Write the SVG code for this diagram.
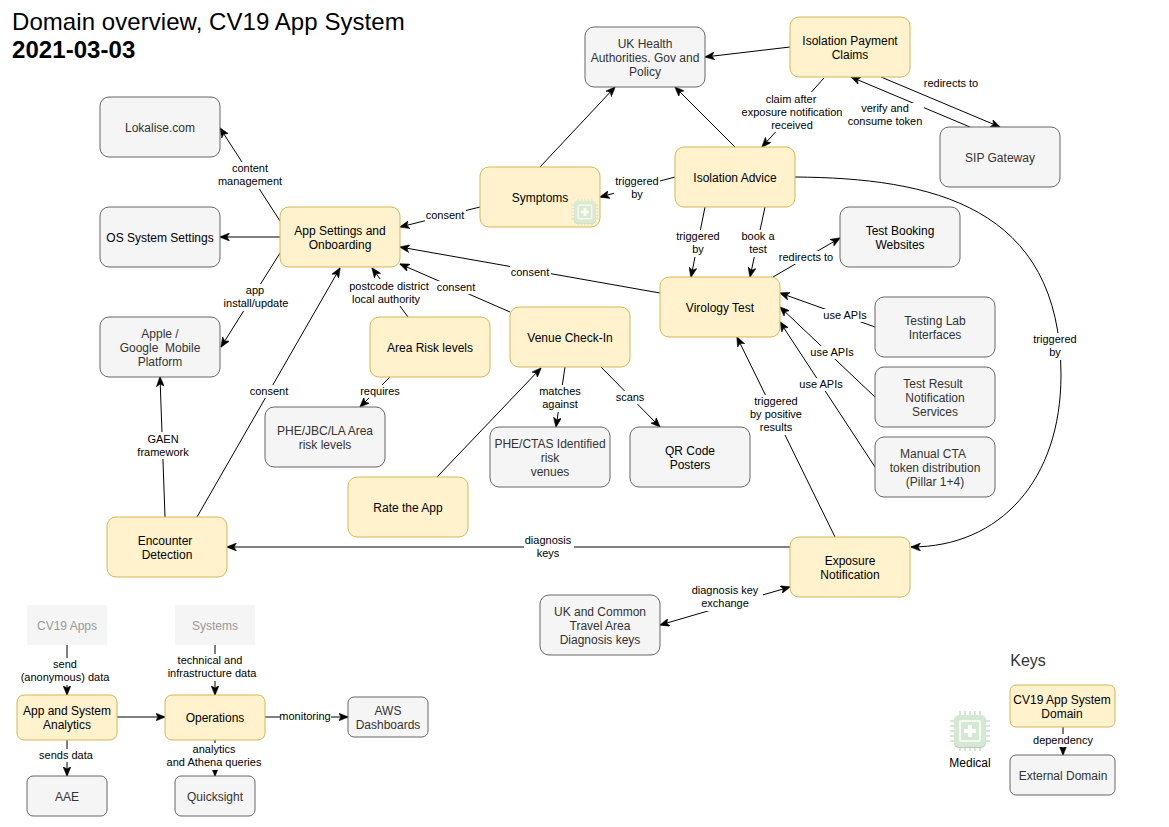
<svg xmlns="http://www.w3.org/2000/svg" xmlns:xlink="http://www.w3.org/1999/xlink" width="1169" height="827" viewBox="0 0 1169 827">
<style>
text{font-family:"Liberation Sans",Arial,Helvetica,sans-serif;text-anchor:middle}
.d rect{fill:#fff2cc;stroke:#d6b656;stroke-width:1}
.e rect{fill:#f5f5f5;stroke:#666;stroke-width:1}
.g rect{fill:#f5f5f5;stroke:none}
.d text,.k text{font-size:12px;fill:#000}
.e text{font-size:12px;fill:#333}
.g text{font-size:12px;fill:#999}
.c path{fill:none;stroke:#000;stroke-width:1;marker-end:url(#a)}
.c rect{fill:#fff}
.c text{font-size:11px;fill:#000}
.t{text-anchor:start;font-size:24px;fill:#000;letter-spacing:.06px}
</style>
<defs>
<marker id="a" viewBox="0 0 10 8" refX="9.5" refY="4" markerWidth="10" markerHeight="8" markerUnits="userSpaceOnUse" orient="auto-start-reverse"><path d="M0,0 L10,4 L0,8 L2.5,4 Z" fill="#000" stroke="#000" stroke-width="0.5"/></marker>
<g id="chip">
<path d="M-10,-20V-15M-5,-20V-15M0,-20V-15M5,-20V-15M10,-20V-15M-10,20V15M-5,20V15M0,20V15M5,20V15M10,20V15M-20,-10H-15M-20,-5H-15M-20,0H-15M-20,5H-15M-20,10H-15M20,-10H15M20,-5H15M20,0H15M20,5H15M20,10H15" stroke="#d5e8d4" stroke-width="2" fill="none"/>
<rect x="-16" y="-15" width="32" height="32" rx="5" fill="#b9c9b8"/>
<rect x="-16" y="-16" width="32" height="32" rx="5" fill="#d5e8d4"/>
<rect x="-10" y="-10" width="20" height="20" rx="1" fill="#d5e8d4" stroke="#f4faf3" stroke-width="2"/>
<path d="M-2,-6H2V-2H6V2H2V6H-2V2H-6V-2H-2Z" fill="#fff"/>
</g>
</defs>
<rect width="1169" height="827" fill="#fff"/>
<text class="t" x="12" y="30">Domain overview, CV19 App System</text>
<text class="t" x="12" y="58" font-weight="bold">2021-03-03</text>
<g id="connectors" class="c">
<path d="M790,47L705,57"/>
<path d="M735,147L675,87"/>
<path d="M540,167L615,87"/>
<path d="M824,78L762,147"/>
<rect x="741" y="92" width="102" height="40"/>
<text x="791" y="103">claim after</text><text x="792" y="116">exposure notification</text><text x="792" y="129">received</text>
<path d="M970,127L851,77"/>
<path d="M881,77L1000,127"/>
<rect x="921" y="77" width="60" height="13"/><text x="951" y="87">redirects to</text>
<rect x="848" y="103" width="76" height="26"/><text x="885" y="112">verify and</text><text x="885" y="125">consume token</text>
<path d="M675,177L600,197"/>
<rect x="614" y="175" width="46" height="27"/><text x="637" y="185">triggered</text><text x="637" y="198">by</text>
<path d="M480,207L400,227"/>
<rect x="425" y="209" width="41" height="13"/><text x="445" y="219">consent</text>
<path d="M280,221L220,128"/>
<rect x="217" y="162" width="66" height="27"/><text x="250" y="172">content</text><text x="250" y="185">management</text>
<path d="M280,237L220,237"/>
<path d="M280,253L221,347"/>
<rect x="224" y="284" width="66" height="27"/><text x="255" y="294">app</text><text x="256" y="307">install/update</text>
<path d="M660,293L400,247"/>
<rect x="510" y="266" width="41" height="13"/><text x="530" y="276">consent</text>
<path d="M510,312L400,264"/>
<rect x="436" y="281" width="41" height="13"/><text x="456" y="291">consent</text>
<path d="M408,317L372,268"/>
<rect x="348" y="279" width="82" height="27"/><text x="389" y="290">postcode district</text><text x="386" y="303">local authority</text>
<path d="M390,377L360,407"/>
<rect x="360" y="385" width="41" height="13"/><text x="380" y="395">requires</text>
<path d="M197,517L340,268"/>
<rect x="249" y="385" width="41" height="13"/><text x="269" y="395">consent</text>
<path d="M165,517L160,377"/>
<rect x="136" y="432" width="55" height="27"/><text x="163" y="443">GAEN</text><text x="163" y="456">framework</text>
<path d="M437,477L541,368"/>
<path d="M565,367L556,427"/>
<rect x="539" y="385" width="42" height="27"/><text x="560" y="395">matches</text><text x="560" y="408">against</text>
<path d="M601,367L660,427"/>
<rect x="615" y="391" width="32" height="13"/><text x="630" y="401">scans</text>
<path d="M705,207L691,277"/>
<rect x="675" y="230" width="46" height="27"/><text x="698" y="240">triggered</text><text x="698" y="253">by</text>
<path d="M765,207L750,277"/>
<rect x="740" y="230" width="36" height="27"/><text x="758" y="240">book a</text><text x="758" y="253">test</text>
<path d="M773,277L840,238"/>
<rect x="778" y="251" width="56" height="13"/><text x="806" y="261">redirects to</text>
<path d="M875,327L780,293"/>
<rect x="822" y="309" width="46" height="13"/><text x="845" y="319">use APIs</text>
<path d="M875,397L780,307"/>
<rect x="809" y="346" width="46" height="13"/><text x="832" y="356">use APIs</text>
<path d="M875,467L780,322"/>
<rect x="798" y="378" width="46" height="13"/><text x="821" y="388">use APIs</text>
<path d="M835,537L737,337"/>
<rect x="748" y="395" width="56" height="40"/><text x="776" y="405">triggered</text><text x="776" y="418">by positive</text><text x="776" y="431">results</text>
<path d="M790,547L227,547"/>
<rect x="524" y="534" width="50" height="27"/><text x="548" y="544">diagnosis</text><text x="548" y="557">keys</text>
<path d="M790,587L660,625" style="marker-start:url(#a)"/>
<rect x="689" y="584" width="74" height="27"/><text x="725" y="594">diagnosis key</text><text x="725" y="607">exchange</text>
<path d="M795,177C930,178 1061,205 1061,375C1061,480 1000,547 911,547"/>
<rect x="1032" y="333" width="46" height="27"/><text x="1055" y="343">triggered</text><text x="1055" y="356">by</text>
<path d="M67,645L67,695"/>
<rect x="21" y="658" width="92" height="27"/><text x="65" y="668">send</text><text x="65" y="681">(anonymous) data</text>
<path d="M117,717L165,717"/>
<path d="M67,740L67,776"/>
<rect x="40" y="749" width="54" height="13"/><text x="66" y="759">sends data</text>
<path d="M215,645L215,695"/>
<rect x="167" y="654" width="90" height="27"/><text x="210" y="664">technical and</text><text x="212" y="677">infrastructure data</text>
<path d="M265,717L348,717"/>
<rect x="280" y="710" width="51" height="13"/><text x="305" y="720">monitoring</text>
<path d="M215,740L215,776"/>
<rect x="166" y="743" width="97" height="27"/><text x="214" y="753">analytics</text><text x="214" y="766">and Athena queries</text>
<path d="M1063,727L1063,755"/>
<rect x="1032" y="734" width="62" height="13"/><text x="1063" y="744">dependency</text>
</g>
<g id="uk-health" class="e"><rect x="585" y="27" width="120" height="60" rx="9"/><text x="645" y="48">UK Health</text><text x="645" y="62">Authorities. Gov and</text><text x="645" y="76">Policy</text></g>
<g id="isolation-payment" class="d"><rect x="790" y="17" width="120" height="60" rx="9"/><text x="850" y="45">Isolation Payment</text><text x="850" y="59">Claims</text></g>
<g id="lokalise" class="e"><rect x="100" y="97" width="120" height="60" rx="9"/><text x="160" y="132">Lokalise.com</text></g>
<g id="os-settings" class="e"><rect x="100" y="207" width="120" height="60" rx="9"/><text x="160" y="242" style="fill:#000">OS System Settings</text></g>
<g id="apple-google" class="e"><rect x="100" y="317" width="120" height="60" rx="9"/><text x="160" y="338">Apple /</text><text x="160" y="352" style="white-space:pre">Google  Mobile</text><text x="160" y="366">Platform</text></g>
<g id="app-settings" class="d"><rect x="280" y="207" width="120" height="60" rx="9"/><text x="340" y="235">App Settings and</text><text x="340" y="249">Onboarding</text></g>
<g id="symptoms" class="d"><rect x="480" y="167" width="120" height="60" rx="9"/><text x="540" y="202">Symptoms</text><use xlink:href="#chip" href="#chip" transform="translate(585,212) scale(0.68)" opacity="0.85"/></g>
<g id="isolation-advice" class="d"><rect x="675" y="147" width="120" height="60" rx="9"/><text x="735" y="182">Isolation Advice</text></g>
<g id="sip-gateway" class="e"><rect x="940" y="127" width="120" height="60" rx="9"/><text x="1000" y="162">SIP Gateway</text></g>
<g id="test-booking" class="e"><rect x="840" y="207" width="120" height="60" rx="9"/><text x="900" y="235" style="fill:#000">Test Booking</text><text x="900" y="249" style="fill:#000">Websites</text></g>
<g id="virology" class="d"><rect x="660" y="277" width="120" height="60" rx="9"/><text x="720" y="312">Virology Test</text></g>
<g id="testing-lab" class="e"><rect x="875" y="297" width="120" height="60" rx="9"/><text x="935" y="325">Testing Lab</text><text x="935" y="339">Interfaces</text></g>
<g id="test-result" class="e"><rect x="875" y="367" width="120" height="60" rx="9"/><text x="933" y="388">Test Result</text><text x="935" y="402">Notification</text><text x="935" y="416">Services</text></g>
<g id="manual-cta" class="e"><rect x="875" y="437" width="120" height="60" rx="9"/><text x="933" y="458">Manual CTA</text><text x="935" y="472">token distribution</text><text x="935" y="486">(Pillar 1+4)</text></g>
<g id="venue" class="d"><rect x="510" y="307" width="120" height="60" rx="9"/><text x="570" y="342">Venue Check-In</text></g>
<g id="area-risk" class="d"><rect x="370" y="317" width="120" height="60" rx="9"/><text x="430" y="352">Area Risk levels</text></g>
<g id="phe-jbc" class="e"><rect x="265" y="407" width="120" height="60" rx="9"/><text x="325" y="435">PHE/JBC/LA Area</text><text x="325" y="449">risk levels</text></g>
<g id="phe-ctas" class="e"><rect x="490" y="427" width="120" height="60" rx="9"/><text x="550" y="448">PHE/CTAS Identified</text><text x="550" y="462">risk</text><text x="550" y="476">venues</text></g>
<g id="qr" class="e"><rect x="630" y="427" width="120" height="60" rx="9"/><text x="690" y="455" style="fill:#000">QR Code</text><text x="690" y="469" style="fill:#000">Posters</text></g>
<g id="rate" class="d"><rect x="348" y="477" width="120" height="60" rx="9"/><text x="408" y="512">Rate the App</text></g>
<g id="encounter" class="d"><rect x="107" y="517" width="120" height="60" rx="9"/><text x="165" y="545">Encounter</text><text x="167" y="559">Detection</text></g>
<g id="exposure" class="d"><rect x="790" y="537" width="120" height="60" rx="9"/><text x="850" y="565">Exposure</text><text x="850" y="579">Notification</text></g>
<g id="uk-common" class="e"><rect x="540" y="595" width="120" height="60" rx="9"/><text x="600" y="616">UK and Common</text><text x="600" y="630">Travel Area</text><text x="600" y="644">Diagnosis keys</text></g>
<g id="cv19-apps" class="g"><rect x="27" y="605" width="80" height="40"/><text x="67" y="630">CV19 Apps</text></g>
<g id="systems" class="g"><rect x="175" y="605" width="80" height="40"/><text x="215" y="630">Systems</text></g>
<g id="analytics" class="d"><rect x="17" y="695" width="100" height="45" rx="7"/><text x="67" y="715">App and System</text><text x="67" y="729">Analytics</text></g>
<g id="operations" class="d"><rect x="165" y="695" width="100" height="45" rx="7"/><text x="215" y="722">Operations</text></g>
<g id="aws" class="e"><rect x="348" y="697" width="80" height="40" rx="6"/><text x="388" y="715">AWS</text><text x="388" y="729">Dashboards</text></g>
<g id="aae" class="e"><rect x="27" y="776" width="80" height="40" rx="6"/><text x="67" y="801">AAE</text></g>
<g id="quicksight" class="e"><rect x="175" y="776" width="80" height="40" rx="6"/><text x="215" y="801">Quicksight</text></g>
<g id="keys" class="k"><text x="1028" y="666" style="font-size:16px;fill:#333">Keys</text></g>
<g id="key-domain" class="d"><rect x="1010" y="685" width="105" height="42" rx="6"/><text x="1062" y="704">CV19 App System</text><text x="1062" y="718">Domain</text></g>
<g id="key-external" class="e"><rect x="1010" y="755" width="105" height="40" rx="6"/><text x="1063" y="780">External Domain</text></g>
<g id="key-medical" class="k"><use xlink:href="#chip" href="#chip" transform="translate(970,731)"/><text x="970" y="767">Medical</text></g>
</svg>
